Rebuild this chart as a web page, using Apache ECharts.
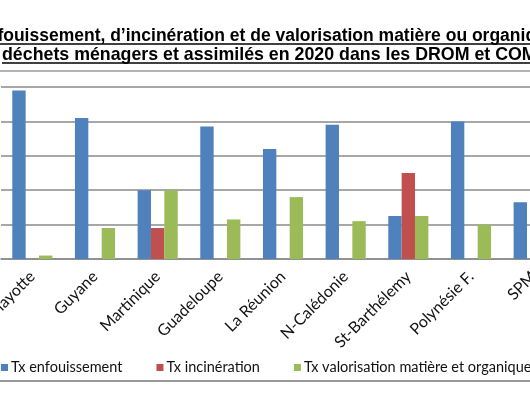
<!DOCTYPE html>
<html>
<head>
<meta charset="utf-8">
<script src="https://cdn.jsdelivr.net/npm/echarts@6/dist/echarts.min.js"></script>
<style>
  html, body { margin: 0; padding: 0; background: #fff; overflow: hidden; width: 530px; height: 396px; }
  /* le graphique d'origine est plus large : la vue n'en montre qu'une partie */
  #chart { width: 600px; height: 396px; }
</style>
</head>
<body>
<div id="chart"></div>
<script>
const categories = ['Mayotte', 'Guyane', 'Martinique', 'Guadeloupe', 'La Réunion', 'N-Calédonie', 'St-Barthélemy', 'Polynésie F.', 'SPM']
const enfouissement = [98, 82, 40, 77, 64, 78, 25, 80, 33]
const incineration = [null, null, 18, null, null, null, 50, null, null]
const valorisation = [2, 18, 40, 23, 36, 22, 25, 20, null]
const seriesNames = ['Tx enfouissement', 'Tx incinération', 'Tx valorisation matière et organique']
const titleLines = [
  'Taux d’enfouissement, d’incinération et de valorisation matière ou organique des',
  'déchets ménagers et assimilés en 2020 dans les DROM et COM'
]
const yMin = 0
const yMax = 100
const yStep = 20

const titleFont = 'bold 17.5px "Liberation Sans"'
const titleFont2 = 'bold 17.8px "Liberation Sans"'
// mesure du texte pour les soulignements
const ctx = document.createElement('canvas').getContext('2d')
ctx.font = titleFont
const w1 = ctx.measureText(titleLines[0]).width
ctx.font = titleFont2
const w2 = ctx.measureText(titleLines[1]).width
const x1 = -83
const x2 = 2

const myChart = echarts.init(document.getElementById('chart'))
const option = {
  animation: false,
  grid: {
    left: 1,
    right: 35,
    top: 87,
    bottom: 137,
    outerBoundsMode: 'none'
  },
  legend: {
    left: -4,
    top: 355,
    itemWidth: 7,
    itemHeight: 7,
    itemGap: 34,
    icon: 'rect',
    textStyle: {
      fontFamily: 'Lato',
      fontSize: 14.5,
      color: '#111',
      padding: [0, 0, 0, -2]
    },
    data: seriesNames
  },
  xAxis: {
    type: 'category',
    data: categories,
    axisLine: { lineStyle: { color: '#8a8a8a', width: 1.5 } },
    axisTick: { length: 5, lineStyle: { color: '#8a8a8a', width: 1.5 } },
    axisLabel: {
      rotate: 45,
      interval: 0,
      margin: 15,
      align: 'right',
      verticalAlign: 'middle',
      fontFamily: 'Lato',
      fontSize: 16,
      color: '#111'
    }
  },
  yAxis: {
    type: 'value',
    min: yMin,
    max: yMax,
    interval: yStep,
    axisLine: { show: false },
    axisTick: { show: false },
    axisLabel: { show: false },
    splitLine: { lineStyle: { color: '#8a8a8a', width: 1.5 } }
  },
  series: [
    {
      name: seriesNames[0],
      type: 'bar',
      data: enfouissement,
      barGap: '0%',
      barCategoryGap: '36%',
      itemStyle: { color: '#4F81BD' }
    },
    {
      name: seriesNames[1],
      type: 'bar',
      data: incineration,
      barGap: '0%',
      barCategoryGap: '36%',
      itemStyle: { color: '#C0504D' }
    },
    {
      name: seriesNames[2],
      type: 'bar',
      data: valorisation,
      barGap: '0%',
      barCategoryGap: '36%',
      itemStyle: { color: '#9BBB59' }
    }
  ],
  graphic: [
    {
      type: 'text',
      x: x1,
      y: 36,
      style: { text: titleLines[0], font: titleFont, fill: '#000', align: 'left', verticalAlign: 'middle' }
    },
    {
      type: 'text',
      x: x2,
      y: 55,
      style: { text: titleLines[1], font: titleFont2, fill: '#000', align: 'left', verticalAlign: 'middle' }
    },
    {
      type: 'line',
      shape: { x1: x1, y1: 44, x2: x1 + w1, y2: 44 },
      style: { stroke: '#000', lineWidth: 1.5 }
    },
    {
      type: 'line',
      shape: { x1: x2, y1: 63, x2: x2 + w2, y2: 63 },
      style: { stroke: '#000', lineWidth: 1.5 }
    },
    {
      // cadre du graphique
      type: 'line',
      shape: { x1: 0, y1: 71, x2: 600, y2: 71 },
      style: { stroke: '#9a9a9a', lineWidth: 1.5 }
    },
    {
      type: 'line',
      shape: { x1: 0, y1: 381, x2: 600, y2: 381 },
      style: { stroke: '#9a9a9a', lineWidth: 2 }
    }
  ]
}
myChart.setOption(option)
</script>
</body>
</html>
